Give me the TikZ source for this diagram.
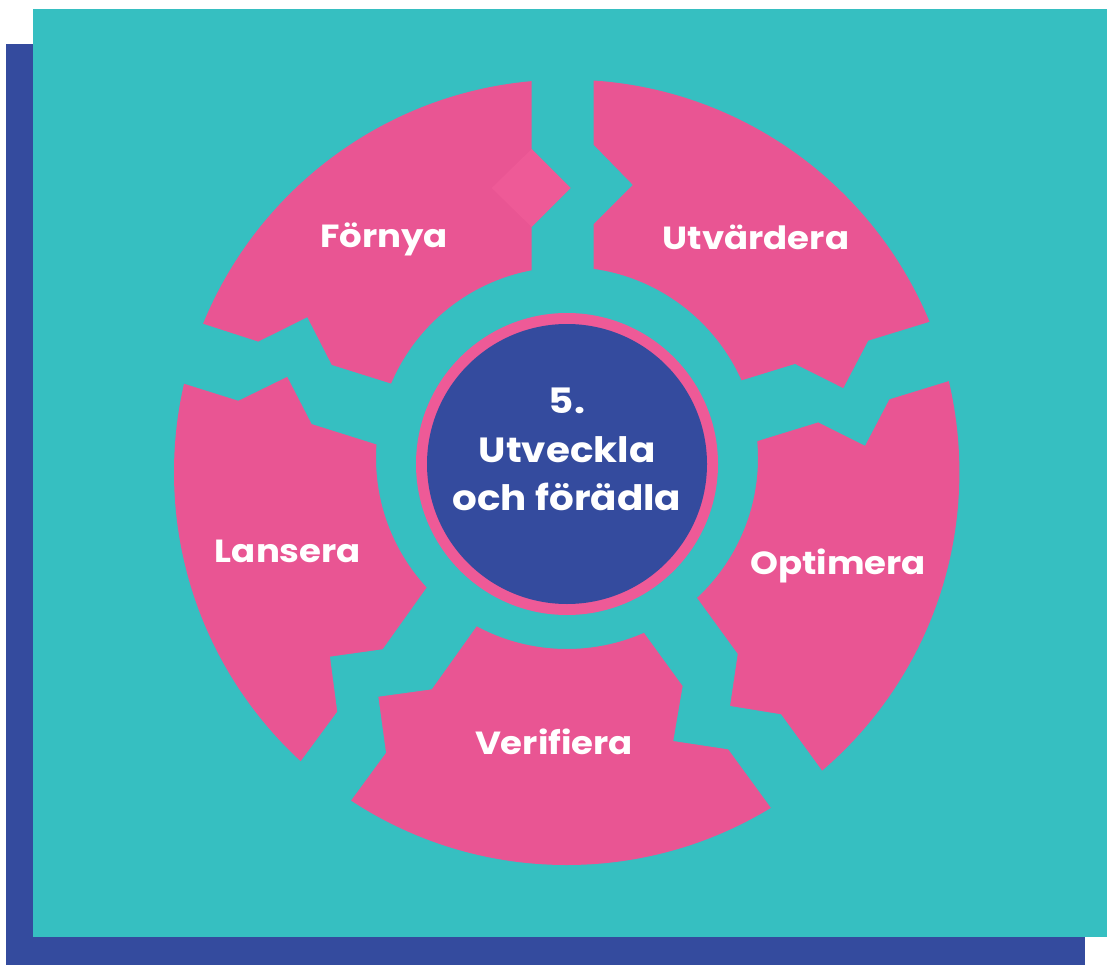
\documentclass[tikz,border=0pt]{standalone}
\usepackage{fontspec}
\setmainfont{Poppins}
\newfontfamily\labelfont[FakeStretch=1.11]{Poppins}
\definecolor{teal}{HTML}{36BFC1}
\definecolor{segpink}{HTML}{E95593}
\definecolor{lightpink}{HTML}{EE5A97}
\definecolor{navy}{HTML}{344B9E}
\tikzset{
  seglabel/.style={text=white, font=\labelfont\fontsize{32}{38}\selectfont\bfseries, anchor=base, inner sep=0pt},
  centrelabel/.style={text=white, font=\labelfont\fontsize{35}{42}\selectfont\bfseries, anchor=base, inner sep=0pt},
  gap/.style={fill=teal},
}
\begin{document}
\begin{tikzpicture}[x=1pt,y=-1pt]
\useasboundingbox (0,0) rectangle (1107,965);
% backgrounds
\fill[navy] (6,44) rectangle (1085,965);
\fill[teal] (33,9) rectangle (1107,937);
% pink annulus
\fill[segpink, even odd rule] (566.7,472.3) circle[radius=392.7pt] (567,458) circle[radius=191pt];
% gaps
\fill[gap] (531.7,40) -- (531.7,149) -- (570.7,188) -- (531.7,227) -- (531.7,290)
  -- (593.7,290) -- (593.7,224) -- (632.7,185) -- (593.7,145) -- (593.7,40) -- cycle;
\fill[gap] (162,376.7) -- (238.3,400.7) -- (287.3,376.7) -- (311.7,424) -- (388,448)
  -- (408,389) -- (331.7,365) -- (307.3,317.3) -- (258.3,341.7) -- (182,317) -- cycle;
\fill[gap] (284,784) -- (337.3,711.7) -- (330,656.7) -- (382.7,649.3) -- (435,576)
  -- (483.7,616.3) -- (431.7,689.3) -- (378.3,696.7) -- (386,752.7) -- (333,825) -- cycle;
\fill[gap] (793,838) -- (728.3,749.3) -- (673.3,741) -- (682.7,686) -- (635.7,621.3)
  -- (690.7,589.3) -- (737.7,654) -- (730,706) -- (781,714.3) -- (845.7,803.3) -- cycle;
\fill[gap] (973.4,308.4) -- (868.3,340.7) -- (843.3,388.3) -- (795,364) -- (718.6,387.5)
  -- (741.9,445.8) -- (818.3,422.3) -- (865,445.7) -- (889.3,399.3) -- (994.4,367) -- cycle;
% diamond
\fill[lightpink] (491.7,188) -- (531.7,149) -- (570.7,188) -- (531.7,227) -- cycle;
% centre
\fill[lightpink] (567,464) circle[radius=151pt];
\fill[navy] (567,464) circle[radius=140pt];
% labels
\node[seglabel] (fornya) at (384,248) {Förnya};
\node[seglabel] (utv) at (756,250) {Utvärdera};
\node[seglabel] (lan) at (288,562) {Lansera};
\node[seglabel] (opt) at (838,574) {Optimera};
\node[seglabel] (ver) at (554,754) {Verifiera};
\node[centrelabel] (c1) at (567,413) {5.};
\node[centrelabel] (c2) at (567,462) {Utveckla};
\node[centrelabel] (c3) at (567,510) {och förädla};
\end{tikzpicture}
\end{document}
